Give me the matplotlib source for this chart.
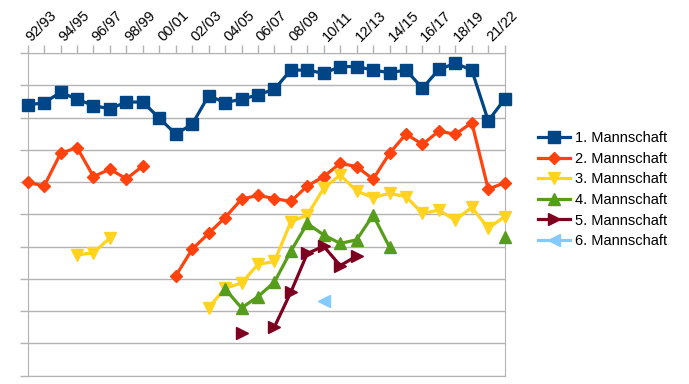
import numpy as np
import matplotlib.pyplot as plt

plt.rcParams['font.family'] = ['Liberation Sans', 'DejaVu Sans']

nan = np.nan

# seasons (20/21 not played)
seasons = ['92/93', '93/94', '94/95', '95/96', '96/97', '97/98', '98/99', '99/00',
           '00/01', '01/02', '02/03', '03/04', '04/05', '05/06', '06/07', '07/08',
           '08/09', '09/10', '10/11', '11/12', '12/13', '13/14', '14/15', '15/16',
           '16/17', '17/18', '18/19', '19/20', '21/22', '22/23']

# league position value (smaller = better)
team1 = [1.61, 1.54, 1.22, 1.43, 1.63, 1.73, 1.52, 1.52, 2.02, 2.51,
         2.21, 1.32, 1.54, 1.43, 1.30, 1.12, 0.53, 0.53, 0.63, 0.42,
         0.42, 0.53, 0.61, 0.53, 1.09, 0.51, 0.32, 0.53, 2.10, 1.43]
team2 = [4.01, 4.12, 3.11, 2.93, 3.83, 3.60, 3.90, 3.50, nan, 6.91,
         6.08, 5.59, 5.10, 4.53, 4.41, 4.51, 4.60, 4.12, 3.83, 3.42,
         3.52, 3.91, 3.11, 2.51, 2.83, 2.42, 2.52, 2.16, 4.22, 4.02]
team3 = [nan, nan, nan, 6.26, 6.19, 5.73, nan, nan, nan, nan,
         nan, 7.89, 7.29, 7.13, 6.55, 6.46, 5.23, 5.02, 4.19, 3.78,
         4.28, 4.48, 4.35, 4.45, 4.97, 4.87, 5.18, 4.78, 5.43, 5.07]
team4 = [nan, nan, nan, nan, nan, nan, nan, nan, nan, nan,
         nan, nan, 7.31, 7.90, 7.55, 7.10, 6.14, 5.28, 5.64, 5.90,
         5.79, 5.02, 6.02, nan, nan, nan, nan, nan, nan, 5.71]
team5 = [nan, nan, nan, nan, nan, nan, nan, nan, nan, nan,
         nan, nan, nan, 8.69, nan, 8.49, 7.41, 6.21, 5.99, 6.59,
         6.29, nan, nan, nan, nan, nan, nan, nan, nan, nan]
team6 = [nan, nan, nan, nan, nan, nan, nan, nan, nan, nan,
         nan, nan, nan, nan, nan, nan, nan, nan, 7.69, nan,
         nan, nan, nan, nan, nan, nan, nan, nan, nan, nan]

names = ['1. Mannschaft', '2. Mannschaft', '3. Mannschaft',
         '4. Mannschaft', '5. Mannschaft', '6. Mannschaft']
colors = ['#004586', '#ff420e', '#ffd320', '#579d1c', '#7e0021', '#83caff']
markers = ['s', 'D', 'v', '^', '>', '<']
msizes = [8.5, 6.5, 8.5, 8.5, 8.5, 8.5]

fig = plt.figure(figsize=(6.89, 3.84), dpi=100)
ax = fig.add_axes([0.0402, 0.0216, 0.6923, 0.8404])

x = np.arange(len(seasons))
for data, name, c, m, ms in zip([team1, team2, team3, team4, team5, team6],
                                names, colors, markers, msizes):
    ax.plot(x, data, color=c, lw=2.3, marker=m, ms=ms, label=name,
            clip_on=False, zorder=3)

grid = '#b3b3b3'
ax.set_xlim(0, len(seasons) - 1)
ax.set_ylim(10, 0)
ax.set_yticks(range(11))
ax.set_yticklabels([])
ax.yaxis.grid(True, color=grid, lw=1)
ax.tick_params(axis='y', length=6, color=grid, width=1)

ax.xaxis.tick_top()
ax.set_xticks(x)
ax.set_xticklabels([s if i % 2 == 0 else '' for i, s in enumerate(seasons)],
                   rotation=45, ha='left', va='center_baseline',
                   rotation_mode='anchor', fontsize=10.5)
ax.tick_params(axis='x', length=6, color=grid, width=1, pad=5)

for sp in ax.spines.values():
    sp.set_color(grid)

ax.legend(loc='center left', bbox_to_anchor=(0.781, 0.506),
          bbox_transform=fig.transFigure, frameon=False, fontsize=10.5,
          handlelength=2.2, handletextpad=0.35, labelspacing=0.45,
          borderpad=0, borderaxespad=0)

fig.savefig('out.png', dpi=100)
